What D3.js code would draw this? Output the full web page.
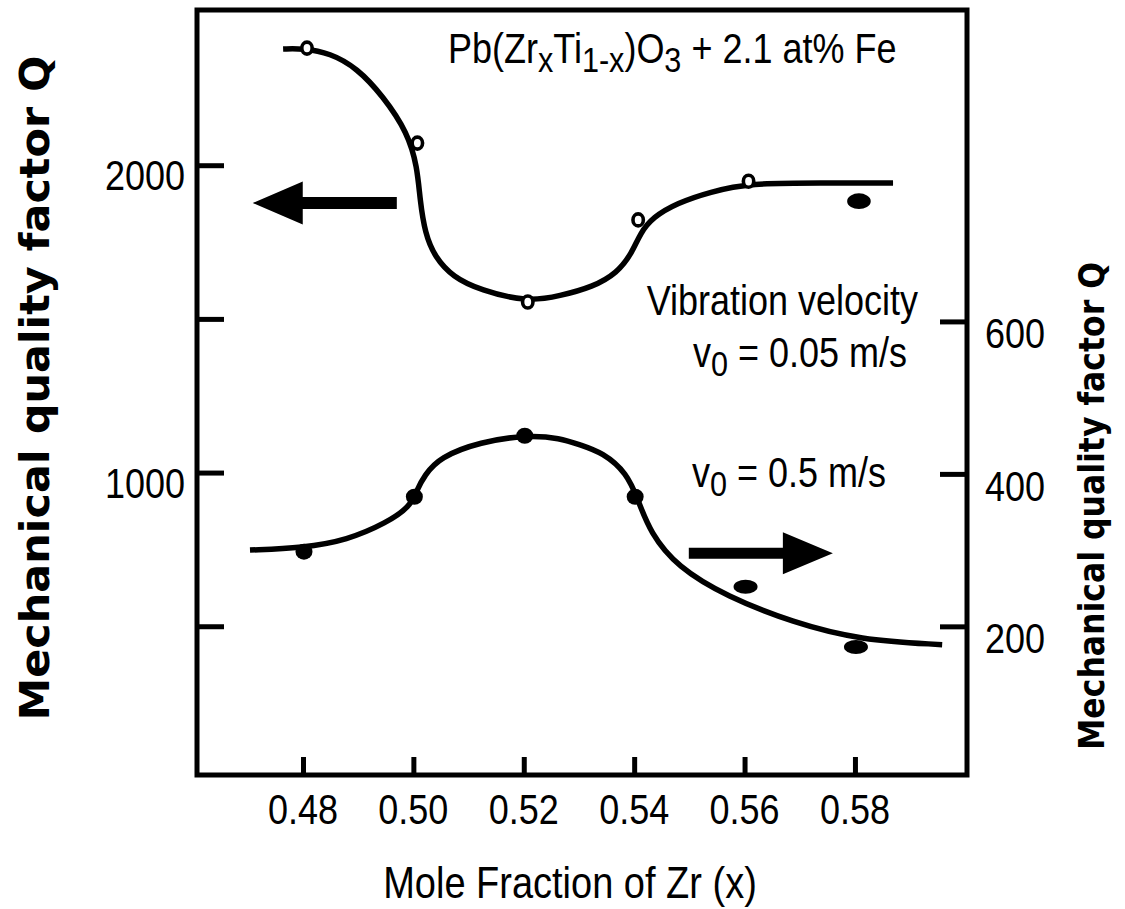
<!DOCTYPE html>
<html>
<head>
<meta charset="utf-8">
<script src="https://cdn.jsdelivr.net/npm/d3@7"></script>
<style>
  html, body { margin: 0; padding: 0; background: #fff; }
  svg { display: block; }
  text { font-family: "Liberation Sans", Arial, Helvetica, sans-serif; fill: #000; }
</style>
</head>
<body>
<main></main>
<script>
const width = 1125;
const height = 909;
const margin = {top: 10, right: 158, bottom: 134, left: 197};

// measured points (Zr fraction x, mechanical Q)
const zrFraction = [0.48, 0.50, 0.52, 0.54, 0.56, 0.58];
const qLowVelocity = [2381, 2072, 1555, 1822, 1948, 1883];   // v0 = 0.05 m/s, left axis
const qHighVelocity = [298, 370, 450, 370, 252, 173];        // v0 = 0.5 m/s, right axis

// hand drawn guide curves
const fitLowX = [0.4764, 0.4800, 0.4849, 0.4898, 0.4945, 0.4990, 0.5007, 0.5012, 0.5021, 0.5039,
                 0.5072, 0.5121, 0.5206, 0.5266, 0.5325, 0.5369, 0.5396, 0.5411, 0.5434, 0.5478,
                 0.5537, 0.5610, 0.5737, 0.5869];
const fitLowQ = [2378, 2380, 2365, 2316, 2225, 2105, 1994, 1887, 1779, 1701,
                 1636, 1594, 1555, 1575, 1604, 1649, 1714, 1779, 1831, 1877,
                 1913, 1942, 1942, 1942];
const fitHighX = [0.4704, 0.4800, 0.4880, 0.4952, 0.4994, 0.5006, 0.5020, 0.5048, 0.5121, 0.5206, 0.5266,
                  0.5302, 0.5343, 0.5387, 0.5407, 0.5429, 0.5478, 0.5568, 0.5688, 0.5809, 0.5958];
const fitHighQ = [300, 303, 313, 336, 357, 378, 398, 422, 442, 451, 447,
                  438, 428, 401, 366, 323, 278, 239, 205, 182, 176];

// axes
const xTicks = [0.48, 0.50, 0.52, 0.54, 0.56, 0.58];
const leftTicks = [500, 1000, 1500, 2000];
const leftTickLabels = ["", "1000", "", "2000"];
const rightTicks = [200, 400, 600];

// direction arrows: [tail x, tip x] at a given Q
const arrowLowX = [0.4970, 0.4709];
const arrowLowQ = 1877;
const arrowHighX = [0.5499, 0.5760];
const arrowHighQ = 296;

const STRETCH = 1.17; // the scanned lettering is taller than plain Helvetica

const svg = d3.select("main").append("svg")
  .attr("width", width)
  .attr("height", height);

const x = d3.scaleLinear().domain([0.4608, 0.6003]).range([margin.left, width - margin.right]);
const yLeft = d3.scaleLinear().domain([16, 2505]).range([height - margin.bottom, margin.top]);
const yRight = d3.scaleLinear().domain([5, 1008.5]).range([height - margin.bottom, margin.top]);

const x0 = margin.left, x1 = width - margin.right;
const y0 = margin.top, y1 = height - margin.bottom;

// text helper: stretched vertically, optionally made of [str, isSub] parts
const addText = (str, px, py, anchor, size) => {
  const t = svg.append("g")
    .attr("transform", `translate(${px},${py}) scale(1,${STRETCH})`)
    .append("text")
    .attr("text-anchor", anchor)
    .style("font-size", size + "px");
  const parts = Array.isArray(str) ? str : [[str, false]];
  let down = false;
  parts.forEach(([s, sub]) => {
    const sp = t.append("tspan").text(s);
    if (sub && !down) { sp.attr("dy", size * 0.22).style("font-size", (size * 0.85) + "px"); down = true; }
    else if (sub) { sp.style("font-size", (size * 0.85) + "px"); }
    else if (!sub && down) { sp.attr("dy", -size * 0.22); down = false; }
  });
  return t;
};

// axes ticks (labels drawn by hand below)
svg.append("g")
  .attr("transform", `translate(0,${y1})`)
  .call(d3.axisBottom(x).tickValues(xTicks).tickSize(-18).tickFormat(""))
  .call(g => g.select(".domain").remove())
  .call(g => g.selectAll("line").attr("stroke", "#000").attr("stroke-width", 5));

svg.append("g")
  .attr("transform", `translate(${x0},0)`)
  .call(d3.axisLeft(yLeft).tickValues(leftTicks).tickSize(-27).tickFormat(""))
  .call(g => g.select(".domain").remove())
  .call(g => g.selectAll("line").attr("stroke", "#000").attr("stroke-width", 5));

svg.append("g")
  .attr("transform", `translate(${x1},0)`)
  .call(d3.axisRight(yRight).tickValues(rightTicks).tickSize(-27).tickFormat(""))
  .call(g => g.select(".domain").remove())
  .call(g => g.selectAll("line").attr("stroke", "#000").attr("stroke-width", 5));

// frame
svg.append("rect")
  .attr("x", x0).attr("y", y0)
  .attr("width", x1 - x0).attr("height", y1 - y0)
  .attr("fill", "none").attr("stroke", "#000").attr("stroke-width", 5);

// tick labels
xTicks.forEach(v => addText(v.toFixed(2), x(v), 824, "middle", 36));
leftTicks.forEach((v, i) => addText(leftTickLabels[i], x0 - 12, yLeft(v) + 25, "end", 36));
rightTicks.forEach(v => addText(String(v), x1 + 18, yRight(v) + 27, "start", 36));

// axis titles
addText("Mole Fraction of Zr (x)", 570, 898, "middle", 38);

svg.append("text")
  .attr("transform", `translate(49,388) rotate(-90)`)
  .attr("text-anchor", "middle")
  .attr("textLength", 665).attr("lengthAdjust", "spacingAndGlyphs")
  .style("font-family", "'DejaVu Sans', sans-serif")
  .style("font-weight", "bold")
  .style("font-size", "40px")
  .text("Mechanical quality factor Q");

svg.append("text")
  .attr("transform", `translate(1104,506) rotate(-90)`)
  .attr("text-anchor", "middle")
  .attr("textLength", 488).attr("lengthAdjust", "spacingAndGlyphs")
  .style("font-family", "'DejaVu Sans', sans-serif")
  .style("font-weight", "bold")
  .style("font-size", "36px")
  .text("Mechanical quality factor Q");

// guide curves
const lineLow = d3.line().curve(d3.curveBasis)
  .x((d, i) => x(fitLowX[i])).y(d => yLeft(d));
const lineHigh = d3.line().curve(d3.curveBasis)
  .x((d, i) => x(fitHighX[i])).y(d => yRight(d));

svg.append("path").attr("d", lineLow(fitLowQ))
  .attr("fill", "none").attr("stroke", "#000").attr("stroke-width", 5.5);
svg.append("path").attr("d", lineHigh(fitHighQ))
  .attr("fill", "none").attr("stroke", "#000").attr("stroke-width", 5.5);

// markers: open circles for v0 = 0.05, dots for v0 = 0.5
// the last few were printed as squashed blobs, so they get ellipses
const lastIdx = zrFraction.length - 1;
svg.append("g").selectAll("ellipse")
  .data(qLowVelocity)
  .join("ellipse")
  .attr("cx", (d, i) => x(zrFraction[i]) + 4)
  .attr("cy", d => yLeft(d))
  .attr("rx", (d, i) => i === lastIdx ? 10 : 5.2)
  .attr("ry", (d, i) => i === lastIdx ? 6 : 6)
  .attr("fill", (d, i) => i === lastIdx ? "#000" : "#fff")
  .attr("stroke", "#000").attr("stroke-width", 3.6);

svg.append("g").selectAll("ellipse")
  .data(qHighVelocity)
  .join("ellipse")
  .attr("cx", (d, i) => x(zrFraction[i]) + 1)
  .attr("cy", d => yRight(d))
  .attr("rx", (d, i) => i >= lastIdx - 1 ? 12 : 8.5)
  .attr("ry", (d, i) => i >= lastIdx - 1 ? 7 : 8)
  .attr("fill", "#000");

// arrows
const drawArrow = (tailX, tipX, yPx, shaft, headH, headL) => {
  const dir = tipX > tailX ? 1 : -1;
  const baseX = tipX - dir * headL;
  svg.append("path")
    .attr("d", `M${tailX},${yPx - shaft / 2} L${baseX},${yPx - shaft / 2} L${baseX},${yPx - headH / 2}
      L${tipX},${yPx} L${baseX},${yPx + headH / 2} L${baseX},${yPx + shaft / 2} L${tailX},${yPx + shaft / 2} Z`)
    .attr("fill", "#000");
};
drawArrow(x(arrowLowX[0]), x(arrowLowX[1]), yLeft(arrowLowQ), 12, 43, 50);
drawArrow(x(arrowHighX[0]), x(arrowHighX[1]), yRight(arrowHighQ), 11, 42, 50);

// annotations
addText([["Pb(Zr", false], ["x", true], ["Ti", false], ["1-x", true], [")O", false], ["3", true], [" + 2.1 at% Fe", false]],
  448, 63, "start", 36);
addText("Vibration velocity", 918, 315, "end", 36);
addText([["v", false], ["0", true], [" = 0.05 m/s", false]], 907, 367, "end", 36);
addText([["v", false], ["0", true], [" = 0.5 m/s", false]], 692, 487, "start", 36);
</script>
</body>
</html>
